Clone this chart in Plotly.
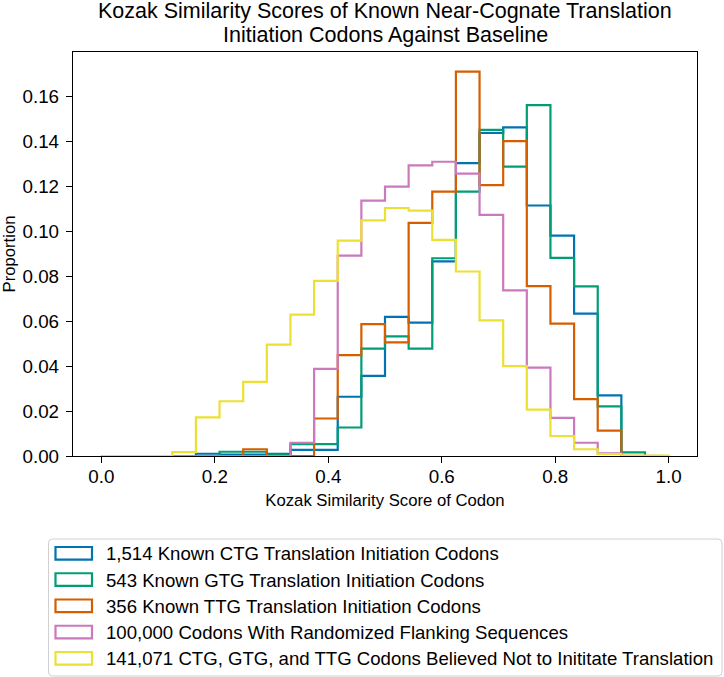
import plotly.graph_objects as go

edges = [i / 24 for i in range(25)]

ctg = [0, 0, 0, 0, 0.001, 0.0006, 0.0006, 0.001, 0.0027, 0.0027, 0.0264, 0.0357,
       0.0620, 0.0594, 0.0867, 0.1305, 0.1439, 0.1464, 0.1116, 0.0982, 0.0634, 0.0270, 0, 0]
gtg = [0, 0, 0, 0, 0, 0.0019, 0.0019, 0.0005, 0.0053, 0.0053, 0.0127, 0.0478,
       0.0533, 0.0478, 0.0881, 0.1178, 0.1453, 0.1289, 0.1563, 0.0883, 0.0756, 0.0221, 0.0016, 0]
ttg = [0, 0, 0, 0, 0, 0, 0.003, 0, 0, 0.0167, 0.0449, 0.0588,
       0.0506, 0.1039, 0.1178, 0.1713, 0.1207, 0.1403, 0.0757, 0.0590, 0.0253, 0.0113, 0, 0]
rand = [0, 0, 0, 0, 0, 0, 0, 0, 0.0059, 0.0388, 0.0893, 0.1138,
        0.1200, 0.1295, 0.1311, 0.1258, 0.1074, 0.0738, 0.0394, 0.0170, 0.0059, 0.0012, 0.0002, 0]
non = [0, 0, 0, 0.0017, 0.0172, 0.0244, 0.0330, 0.0496, 0.0630, 0.0780, 0.0960, 0.1050,
       0.1105, 0.1093, 0.0963, 0.0822, 0.0604, 0.0400, 0.0207, 0.0089, 0.0030, 0.0009, 0.0002, 0.0002]

labels = [
    "1,514 Known CTG Translation Initiation Codons",
    "543 Known GTG Translation Initiation Codons",
    "356 Known TTG Translation Initiation Codons",
    "100,000 Codons With Randomized Flanking Sequences",
    "141,071 CTG, GTG, and TTG Codons Believed Not to Inititate Translation",
]
colors = ["#0173b2", "#029e73", "#d55e00", "#cc78bc", "#ece133"]
series = [ctg, gtg, ttg, rand, non]

title_lines = ["Kozak Similarity Scores of Known Near-Cognate Translation",
               "Initiation Codons Against Baseline"]
x_ticks = [0, 0.2, 0.4, 0.6, 0.8, 1.0]
y_ticks = [0, 0.02, 0.04, 0.06, 0.08, 0.10, 0.12, 0.14, 0.16]

W, H = 724, 677
ML, MR, MT, MB = 73, 27, 52, 221
PW, PH = W - ML - MR, H - MT - MB


def px(x):
    return (x - ML) / PW


def py(y):
    return (H - MB - y) / PH


fig = go.Figure()
for vals, lab, col in zip(series, labels, colors):
    xs = [edges[0]]
    ys = [0]
    for i, v in enumerate(vals):
        xs += [edges[i], edges[i + 1]]
        ys += [v, v]
    xs.append(edges[-1])
    ys.append(0)
    fig.add_trace(go.Scatter(
        x=xs, y=ys, mode="lines", name=lab,
        line=dict(color=col, width=2.2),
        showlegend=False, hoverinfo="skip",
    ))

font = "Liberation Sans, Arial, sans-serif"

shapes = []
annotations = []

# legend frame (rounded)
lx0, lx1, ly0, ly1, r = 48.5, 722, 539, 676, 4
rx, ry = r / PW, r / PH
X0, X1, Y0, Y1 = px(lx0), px(lx1), py(ly0), py(ly1)
path = (f"M{X0+rx},{Y0} L{X1-rx},{Y0} Q{X1},{Y0} {X1},{Y0-ry} "
        f"L{X1},{Y1+ry} Q{X1},{Y1} {X1-rx},{Y1} L{X0+rx},{Y1} Q{X0},{Y1} {X0},{Y1+ry} "
        f"L{X0},{Y0-ry} Q{X0},{Y0} {X0+rx},{Y0} Z")
shapes.append(dict(type="path", xref="paper", yref="paper", path=path,
                   line=dict(color="#d0d0d0", width=1), fillcolor="white", layer="above"))

row0, row_step = 553.3, 26.25
for k, (lab, col) in enumerate(zip(labels, colors)):
    cy = row0 + k * row_step
    shapes.append(dict(type="rect", xref="paper", yref="paper",
                       x0=px(55.5), x1=px(92), y0=py(cy - 6.3), y1=py(cy + 6.3),
                       line=dict(color=col, width=2.2), fillcolor="rgba(0,0,0,0)", layer="above"))
    annotations.append(dict(text=lab, xref="paper", yref="paper", x=px(104), y=py(cy + 0.5),
                            xanchor="left", yanchor="middle", showarrow=False,
                            font=dict(size=18.6, family=font, color="black")))

for line, cy in zip(title_lines, [10.5, 35.0]):
    annotations.append(dict(
        text=line, xref="paper", yref="paper", x=px(385), y=py(cy),
        xanchor="center", yanchor="middle", showarrow=False,
        font=dict(size=21.5, family=font, color="black"),
    ))

fig.update_layout(
    width=W, height=H,
    margin=dict(l=ML, r=MR, t=MT, b=MB),
    plot_bgcolor="white", paper_bgcolor="white",
    font=dict(family=font, size=18, color="black"),
    showlegend=False,
    shapes=shapes, annotations=annotations,
)
fig.update_xaxes(
    range=[-0.05, 1.05], tickvals=x_ticks, tickformat=".1f",
    ticks="outside", ticklen=6, tickcolor="black", tickwidth=1.2, showline=True, linecolor="black",
    linewidth=1.3, mirror=True, showgrid=False, zeroline=False, automargin=False,
    title=dict(text="Kozak Similarity Score of Codon", font=dict(size=16.7), standoff=8),
    tickfont=dict(size=18.8), ticklabelstandoff=-3,
)
fig.update_yaxes(
    range=[0, 0.18], tickvals=y_ticks, tickformat=".2f",
    ticks="outside", ticklen=6, tickcolor="black", tickwidth=1.2, showline=True, linecolor="black",
    linewidth=1.3, mirror=True, showgrid=False, zeroline=False, automargin=False,
    title=dict(text="Proportion", font=dict(size=16.7), standoff=6),
    tickfont=dict(size=18.8), ticklabelstandoff=3,
)
fig.write_html(
    "out.html",
    config={"displayModeBar": False},
    post_script="document.body.style.margin='0';document.body.style.padding='0';",
)
